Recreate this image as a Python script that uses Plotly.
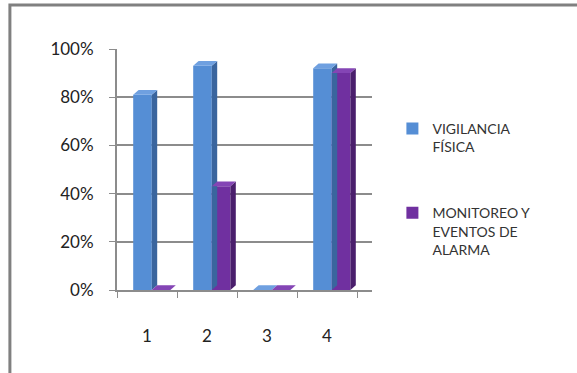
import plotly.graph_objects as go

categories = ["1", "2", "3", "4"]
vigilancia = [0.81, 0.93, 0.0, 0.92]
monitoreo = [0.0, 0.43, 0.0, 0.90]
series_names = ["VIGILANCIA<br>FÍSICA", "MONITOREO Y<br>EVENTOS DE<br>ALARMA"]
y_ticks = [0, 0.2, 0.4, 0.6, 0.8, 1.0]

front_colors = ["#558ED5", "#7030A0"]
side_colors = ["#3A659E", "#4A1F6C"]
top_colors = ["#6FA0E0", "#8445B5"]

bar_w = 0.31
offsets = [-0.23, 0.08]

fig = go.Figure()
fig.add_trace(go.Bar(x=categories, y=vigilancia, name=series_names[0],
                     width=bar_w, offset=offsets[0],
                     marker=dict(color=front_colors[0], line=dict(width=0)),
                     legendgroup="a"))
fig.add_trace(go.Bar(x=categories, y=monitoreo, name=series_names[1],
                     width=bar_w, offset=offsets[1],
                     marker=dict(color=front_colors[1], line=dict(width=0)),
                     legendgroup="b"))

# pseudo-3D depth faces derived from the data values (category index units / value units)
dx, dy = 0.09, 0.02
shapes = []
for s, vals in enumerate([vigilancia, monitoreo]):
    for i, v in enumerate(vals):
        left = i + offsets[s]
        right = left + bar_w
        side = f"M {right},0 L {right+dx},{dy} L {right+dx},{v+dy} L {right},{v} Z"
        top = f"M {left},{v} L {left+dx},{v+dy} L {right+dx},{v+dy} L {right},{v} Z"
        shapes.append(dict(type="path", xref="x", yref="y", path=side,
                           fillcolor=side_colors[s], line=dict(width=0), layer="above"))
        shapes.append(dict(type="path", xref="x", yref="y", path=top,
                           fillcolor=top_colors[s], line=dict(width=0), layer="above"))

shapes.append(dict(type="rect", xref="paper", yref="paper",
                   x0=-0.42, x1=2.0, y0=-1.0, y1=1.183,
                   line=dict(color="#808080", width=3), fillcolor="rgba(0,0,0,0)",
                   layer="below"))

fig.update_layout(
    width=577, height=373,
    margin=dict(l=117, r=205, t=49, b=83),
    paper_bgcolor="white", plot_bgcolor="white",
    barmode="overlay",
    font=dict(family="Lato, Open Sans, sans-serif", color="#222222"),
    legend=dict(x=1.08, xanchor="left", y=0.735, yanchor="top",
                font=dict(size=14, color="#333333"), valign="top",
                tracegroupgap=45, bgcolor="rgba(0,0,0,0)"),
    xaxis=dict(type="category", range=[-0.5, 3.75], tickson="boundaries",
               ticks="outside", ticklen=6, tickcolor="#8c8c8c",
               showline=True, linecolor="#8c8c8c", linewidth=2,
               showgrid=False, tickfont=dict(size=17, color="#222222"),
               ticklabelstandoff=30),
    yaxis=dict(range=[0, 1], tickvals=y_ticks, tickformat=".0%",
               ticks="outside", ticklen=6, tickcolor="#8c8c8c",
               showline=True, linecolor="#8c8c8c", linewidth=2,
               showgrid=True, gridcolor="#8c8c8c", gridwidth=1.5,
               zeroline=False, tickfont=dict(size=17, color="#222222"),
               ticklabelstandoff=12),
    shapes=shapes,
)

fig.write_html("out.html")
